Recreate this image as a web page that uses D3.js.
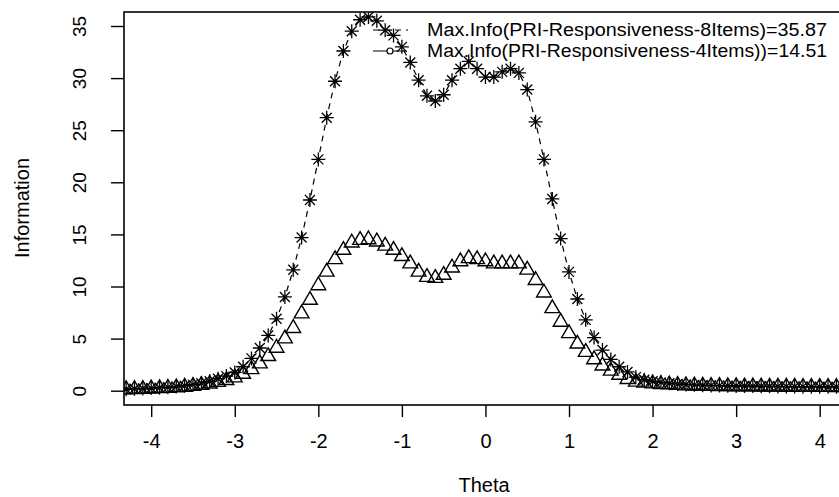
<!DOCTYPE html>
<html>
<head>
<meta charset="utf-8">
<script src="https://cdn.jsdelivr.net/npm/d3@7"></script>
<style>
  html, body { margin: 0; padding: 0; background: #fff; }
  svg { display: block; }
  text { font-family: "Liberation Sans", Arial, sans-serif; fill: #000; }
</style>
</head>
<body>
<svg id="chart" width="839" height="497"></svg>
<script>
// ---- data ----
const theta = [
  -4.3,-4.2,-4.1,-4.0,-3.9,-3.8,-3.7,-3.6,-3.5,-3.4,-3.3,-3.2,-3.1,-3.0,-2.9,-2.8,-2.7,-2.6,-2.5,-2.4,
  -2.3,-2.2,-2.1,-2.0,-1.9,-1.8,-1.7,-1.6,-1.5,-1.4,-1.3,-1.2,-1.1,-1.0,-0.9,-0.8,-0.7,-0.6,-0.5,-0.4,
  -0.3,-0.2,-0.1,0.0,0.1,0.2,0.3,0.4,0.5,0.6,0.7,0.8,0.9,1.0,1.1,1.2,1.3,1.4,1.5,1.6,
  1.7,1.8,1.9,2.0,2.1,2.2,2.3,2.4,2.5,2.6,2.7,2.8,2.9,3.0,3.1,3.2,3.3,3.4,3.5,3.6,
  3.7,3.8,3.9,4.0,4.1,4.2,4.3
];
const info8Items = [
  0.15,0.18,0.21,0.25,0.29,0.34,0.40,0.48,0.58,0.72,0.90,1.15,1.40,1.75,2.30,3.10,4.10,5.30,6.90,9.00,
  11.6,14.7,18.3,22.2,26.2,29.7,32.6,34.5,35.6,35.87,35.5,34.6,34.1,33.0,31.5,29.8,28.3,27.8,28.4,29.8,
  30.9,31.6,30.9,30.1,30.1,30.6,30.9,30.5,28.9,25.8,22.2,18.4,14.6,11.4,8.8,6.8,5.1,3.9,3.0,2.3,
  1.8,1.3,1.05,0.90,0.80,0.72,0.65,0.60,0.56,0.53,0.51,0.49,0.47,0.46,0.45,0.44,0.43,0.42,0.41,0.40,
  0.40,0.39,0.38,0.38,0.37,0.37,0.36
];
const info4Items = [
  0.12,0.14,0.16,0.19,0.22,0.26,0.30,0.36,0.44,0.54,0.66,0.82,1.00,1.25,1.60,2.05,2.60,3.30,4.10,5.00,
  6.0,7.4,8.7,10.1,11.4,12.6,13.5,14.2,14.45,14.51,14.3,13.9,13.5,12.9,12.2,11.4,10.9,10.8,11.1,11.8,
  12.4,12.7,12.6,12.4,12.2,12.2,12.2,12.2,11.6,10.6,9.4,7.9,6.6,5.5,4.5,3.7,3.0,2.4,1.9,1.5,
  1.1,0.85,0.75,0.68,0.62,0.58,0.54,0.50,0.48,0.46,0.44,0.43,0.42,0.41,0.40,0.39,0.38,0.37,0.37,0.36,
  0.36,0.35,0.35,0.34,0.34,0.33,0.33
];
const xTicks = [-4,-3,-2,-1,0,1,2,3,4];
const yTicks = [0,5,10,15,20,25,30,35];
const legendLabels = [
  "Max.Info(PRI-Responsiveness-8Items)=35.87",
  "Max.Info(PRI-Responsiveness-4Items))=14.51"
];
const xTitle = "Theta";
const yTitle = "Information";

// ---- layout ----
const W = 839, H = 497;
const box = { left: 124, top: 12, right: 847, bottom: 405 };
const svg = d3.select("#chart");
svg.append("rect").attr("width", W).attr("height", H).attr("fill", "#fff");

const x = d3.scaleLinear().domain([-4, 4]).range([151.2, 819.7]);
const y = d3.scaleLinear().domain([0, 35]).range([390.7, 26]);

svg.append("defs").append("clipPath").attr("id", "plotclip")
  .append("rect")
  .attr("x", box.left).attr("y", box.top)
  .attr("width", box.right - box.left).attr("height", box.bottom - box.top);

const plot = svg.append("g").attr("clip-path", "url(#plotclip)");

const pts8 = theta.map((t, i) => [t, info8Items[i]]);
const pts4 = theta.map((t, i) => [t, info4Items[i]]);

// dashed line for 8 items
plot.append("path")
  .datum(pts8)
  .attr("d", d3.line().x(d => x(d[0])).y(d => y(d[1])))
  .attr("fill", "none").attr("stroke", "#000")
  .attr("stroke-width", 1.2).attr("stroke-dasharray", "6,5");

// asterisks (pch 8)
const a = 7, ad = 5;
const starPath = `M${-a},0L${a},0M0,${-a}L0,${a}M${-ad},${-ad}L${ad},${ad}M${-ad},${ad}L${ad},${-ad}`;
plot.selectAll(".star").data(pts8).join("path")
  .attr("class", "star")
  .attr("transform", d => `translate(${x(d[0])},${y(d[1])})`)
  .attr("d", starPath)
  .attr("fill", "none").attr("stroke", "#000").attr("stroke-width", 1.3);

// triangles (pch 2)
const r = 8.5;
const triPath = `M0,${-r}L${r * Math.sqrt(3) / 2},${r / 2}L${-r * Math.sqrt(3) / 2},${r / 2}Z`;
plot.selectAll(".tri").data(pts4).join("path")
  .attr("class", "tri")
  .attr("transform", d => `translate(${x(d[0])},${y(d[1])})`)
  .attr("d", triPath)
  .attr("fill", "none").attr("stroke", "#000").attr("stroke-width", 1.4);

// box
svg.append("rect")
  .attr("x", box.left).attr("y", box.top)
  .attr("width", box.right - box.left).attr("height", box.bottom - box.top)
  .attr("fill", "none").attr("stroke", "#000").attr("stroke-width", 1.6);

// x axis
const gx = svg.append("g").attr("transform", `translate(0,${box.bottom})`)
  .call(d3.axisBottom(x).tickValues(xTicks).tickSize(12).tickSizeOuter(0).tickFormat(d3.format("d")));
gx.select(".domain").remove();
gx.selectAll(".tick line").attr("stroke", "#000").attr("stroke-width", 1.4);
gx.selectAll(".tick text")
  .attr("y", 36).attr("dy", null)
  .attr("dominant-baseline", "central")
  .style("font-size", "20px")
  .style("font-family", "'Liberation Sans', Arial, sans-serif")
  .text(d => d < 0 ? "-" + Math.abs(d) : String(d));

// y axis
const gy = svg.append("g").attr("transform", `translate(${box.left},0)`)
  .call(d3.axisLeft(y).tickValues(yTicks).tickSize(13).tickSizeOuter(0));
gy.select(".domain").remove();
gy.selectAll(".tick line").attr("stroke", "#000").attr("stroke-width", 1.4);
gy.selectAll(".tick text")
  .attr("x", null).attr("dy", null)
  .attr("transform", "translate(-45,0) rotate(-90)")
  .attr("text-anchor", "middle")
  .attr("dominant-baseline", "central")
  .style("font-size", "19px")
  .style("font-family", "'Liberation Sans', Arial, sans-serif");

// axis titles
svg.append("text").attr("x", 484).attr("y", 485)
  .attr("text-anchor", "middle").attr("dominant-baseline", "central")
  .style("font-size", "20px").text(xTitle);
svg.append("text").attr("transform", "translate(22,208) rotate(-90)")
  .attr("text-anchor", "middle").attr("dominant-baseline", "central")
  .style("font-size", "20px").text(yTitle);

// legend
const legY = [30, 51];
const lg = svg.append("g");
lg.append("line").attr("x1", 373).attr("x2", 408).attr("y1", legY[0]).attr("y2", legY[0])
  .attr("stroke", "#000").attr("stroke-width", 1.2).attr("stroke-dasharray", "6,5");
lg.append("line").attr("x1", 373).attr("x2", 406).attr("y1", legY[1]).attr("y2", legY[1])
  .attr("stroke", "#000").attr("stroke-width", 1.2);
lg.append("circle").attr("cx", 390).attr("cy", legY[1]).attr("r", 3)
  .attr("fill", "#fff").attr("stroke", "#000").attr("stroke-width", 1.2);
lg.selectAll(".lt").data(legendLabels).join("text")
  .attr("class", "lt")
  .attr("x", 427).attr("y", (d, i) => legY[i])
  .attr("dominant-baseline", "central")
  .attr("textLength", 400).attr("lengthAdjust", "spacingAndGlyphs")
  .style("font-size", "18px")
  .text(d => d);
</script>
</body>
</html>
